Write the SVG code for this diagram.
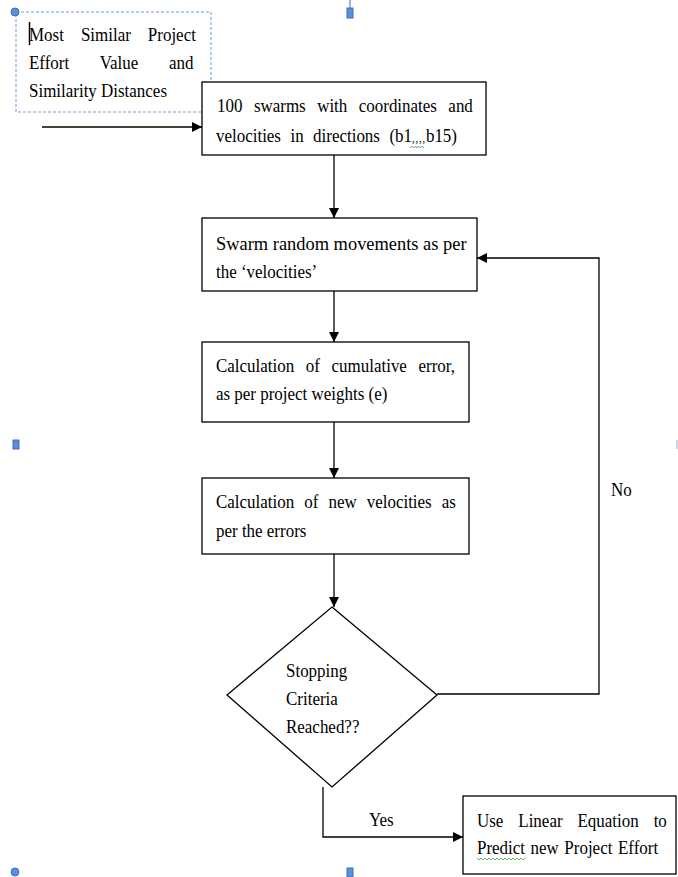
<svg xmlns="http://www.w3.org/2000/svg" width="678" height="877" viewBox="0 0 678 877">
<defs>
<marker id="arr" markerWidth="10" markerHeight="10" refX="10" refY="5" orient="auto" markerUnits="userSpaceOnUse">
<path d="M0,0 L10,5 L0,10 Z" fill="#000"/>
</marker>
<style>
.box{fill:#fff;stroke:#000;stroke-width:1.3}
.ln{fill:none;stroke:#000;stroke-width:1.3}
.t{font-family:"Liberation Serif","Times New Roman",serif;font-size:19.5px;fill:#000}
.h{fill:#5b8fd8;stroke:#3f6fbf;stroke-width:1}
.sq{fill:none;stroke:#3fa33f;stroke-width:0.8}
</style>
</defs>
<rect width="678" height="877" fill="#fff"/>

<g id="handles">
<line x1="350" y1="0" x2="350" y2="8" stroke="#3f6fbf" stroke-width="1"/>
<rect class="h" x="347" y="8" width="6" height="10"/>
<rect class="h" x="13" y="440" width="6" height="9"/>
<rect class="h" x="347" y="868" width="6" height="9"/>
<circle class="h" cx="15" cy="872" r="4"/>
<rect x="676" y="440" width="2" height="9" fill="#c9d6ee"/>
</g>

<g id="connectors">
<line class="ln" x1="42" y1="127" x2="202" y2="127" marker-end="url(#arr)"/>
<line class="ln" x1="334" y1="155" x2="334" y2="218" marker-end="url(#arr)"/>
<line class="ln" x1="334" y1="291" x2="334" y2="342" marker-end="url(#arr)"/>
<line class="ln" x1="334" y1="422" x2="334" y2="478" marker-end="url(#arr)"/>
<line class="ln" x1="334" y1="554" x2="334" y2="607" marker-end="url(#arr)"/>
<polyline class="ln" points="437,694 599,694 599,258 477,258" marker-end="url(#arr)"/>
<polyline class="ln" points="323,787 323,837 463,837" marker-end="url(#arr)"/>
<text class="t" transform="translate(611,496) scale(0.87 1)">No</text>
<text class="t" transform="translate(369,826) scale(0.87 1)">Yes</text>
</g>

<g id="input">
<rect x="16" y="12" width="195" height="100" fill="none" stroke="#6f9bdb" stroke-width="1" stroke-dasharray="3,2"/>
<circle class="h" cx="15" cy="12" r="4"/>
<line x1="29.5" y1="22" x2="29.5" y2="45" stroke="#000" stroke-width="1.5"/>
<text class="t" transform="translate(29,41) scale(0.87 1)" word-spacing="14.7">Most Similar Project</text>
<text class="t" transform="translate(29,69) scale(0.87 1)" word-spacing="30.5">Effort Value and</text>
<text class="t" transform="translate(29,97) scale(0.87 1)">Similarity Distances</text>
</g>

<g id="n1">
<rect class="box" x="202" y="82" width="284" height="73"/>
<text class="t" transform="translate(217,112) scale(0.87 1)" word-spacing="8.3">100 swarms with coordinates and</text>
<text class="t" transform="translate(216,142) scale(0.87 1)" word-spacing="6">velocities in directions (b1<tspan font-size="12px" letter-spacing="1">,,,,</tspan>b15)</text>
<path class="sq" d="M410,148 l1.75,-2 l1.75,2 l1.75,-2 l1.75,2 l1.75,-2 l1.75,2 l1.75,-2 l1.75,2"/>
</g>

<g id="n2">
<rect class="box" x="202" y="218" width="275" height="73"/>
<text class="t" transform="translate(216,250) scale(0.87 1)" textLength="288" lengthAdjust="spacingAndGlyphs">Swarm random movements as per</text>
<text class="t" transform="translate(216,278) scale(0.87 1)">the ‘velocities’</text>
</g>

<g id="n3">
<rect class="box" x="202" y="342" width="267" height="80"/>
<text class="t" transform="translate(216,372) scale(0.87 1)" word-spacing="8.5">Calculation of cumulative error,</text>
<text class="t" transform="translate(216,400) scale(0.87 1)">as per project weights (e)</text>
</g>

<g id="n4">
<rect class="box" x="202" y="478" width="267" height="76"/>
<text class="t" transform="translate(216,508) scale(0.87 1)" word-spacing="6.7">Calculation of new velocities as</text>
<text class="t" transform="translate(216,537) scale(0.87 1)">per the errors</text>
</g>

<g id="decision">
<polygon class="box" points="332,607 437,695 332,787 227,695"/>
<text class="t" transform="translate(286,677) scale(0.87 1)">Stopping</text>
<text class="t" transform="translate(286,705) scale(0.87 1)">Criteria</text>
<text class="t" transform="translate(286,733) scale(0.87 1)">Reached??</text>
</g>

<g id="n5">
<rect class="box" x="463" y="796" width="213" height="78"/>
<text class="t" transform="translate(477,827) scale(0.87 1)" word-spacing="12.3">Use Linear Equation to</text>
<text class="t" transform="translate(477,854) scale(0.87 1)" word-spacing="1.5">Predict new Project Effort</text>
<path class="sq" d="M477,858 l2,2 l2,-2 l2,2 l2,-2 l2,2 l2,-2 l2,2 l2,-2 l2,2 l2,-2 l2,2 l2,-2 l2,2 l2,-2 l2,2 l2,-2 l2,2 l2,-2 l2,2 l2,-2 l2,2 l2,-2 l2,2 l2,-2"/>
</g>
</svg>
